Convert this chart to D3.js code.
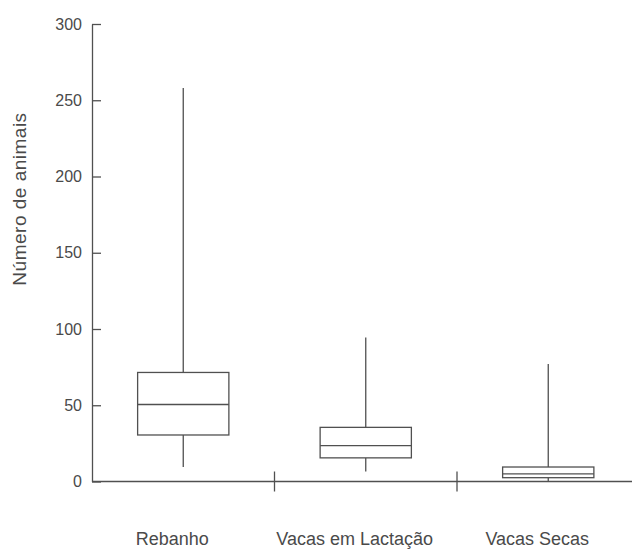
<!DOCTYPE html>
<html>
<head>
<meta charset="utf-8">
<script src="https://cdn.jsdelivr.net/npm/d3@7"></script>
<style>
  body { margin: 0; background: #fff; }
  text { font-family: "Liberation Sans", Arial, sans-serif; fill: #4a4a4a; }
</style>
</head>
<body>
<div id="chart"></div>
<script>
// box plot data
var categories = ['Rebanho', 'Vacas em Lactação', 'Vacas Secas'];
var whiskerLow  = [9.5, 6.5, 0];
var q1          = [30.5, 15.5, 2.5];
var median      = [50.5, 23.5, 5];
var q3          = [71.5, 35.5, 9.5];
var whiskerHigh = [258, 94.5, 77];
var yTicks = [0, 50, 100, 150, 200, 250, 300];

var W = 632, H = 549;
var margin = {top: 24, left: 92},
    plotRight = 639.5,
    plotBottom = 481.5;

var svg = d3.select('#chart').append('svg')
    .attr('width', W)
    .attr('height', H);

var x = d3.scaleBand().domain(categories).range([margin.left, plotRight]).padding(0);
var y = d3.scaleLinear().domain([0, 300]).range([plotBottom, margin.top]);

var stroke = '#505050';

// y axis, ticks pointing inward
var yAxis = svg.append('g')
    .attr('transform', 'translate(' + margin.left + ',0)')
    .call(d3.axisLeft(y).tickValues(yTicks).tickSizeInner(-9).tickSizeOuter(0).tickPadding(10));
yAxis.select('.domain').attr('stroke', stroke).attr('stroke-width', 1.3);
yAxis.selectAll('.tick line').attr('stroke', stroke).attr('stroke-width', 1.3);
yAxis.selectAll('.tick text')
    .style('font-family', '"Liberation Sans", Arial, sans-serif')
    .style('font-size', '16px')
    .attr('fill', '#4a4a4a');

// x axis line and boundary ticks between categories
svg.append('line')
    .attr('x1', margin.left).attr('x2', plotRight)
    .attr('y1', y(0)).attr('y2', y(0))
    .attr('stroke', stroke).attr('stroke-width', 1.3);

svg.selectAll('.xtick')
    .data(categories.slice(1))
    .enter().append('line')
    .attr('class', 'xtick')
    .attr('x1', function(d) { return x(d); })
    .attr('x2', function(d) { return x(d); })
    .attr('y1', y(0) - 10).attr('y2', y(0) + 10)
    .attr('stroke', stroke).attr('stroke-width', 1.3);

// category labels sit a little left of the band centre in the original
svg.selectAll('.xlabel')
    .data(categories)
    .enter().append('text')
    .attr('class', 'xlabel')
    .attr('x', function(d) { return x(d) + x.bandwidth() / 2; })
    .attr('dx', -11)
    .attr('y', 545)
    .attr('text-anchor', 'middle')
    .style('font-size', '18px')
    .text(function(d) { return d; });

// y title
svg.append('text')
    .attr('transform', 'translate(26,199) rotate(-90)')
    .attr('text-anchor', 'middle')
    .style('font-size', '19px')
    .style('letter-spacing', '0.5px')
    .text('Número de animais');

// boxes
var boxW = x.bandwidth() * 0.5;
var box = svg.selectAll('.box')
    .data(categories)
    .enter().append('g')
    .attr('class', 'box')
    .attr('transform', function(d) { return 'translate(' + (x(d) + x.bandwidth() / 2) + ',0)'; });

// whiskers
box.append('line')
    .attr('x1', 0).attr('x2', 0)
    .attr('y1', function(d, i) { return y(whiskerHigh[i]); })
    .attr('y2', function(d, i) { return y(q3[i]); })
    .attr('stroke', stroke).attr('stroke-width', 1.3);
box.append('line')
    .attr('x1', 0).attr('x2', 0)
    .attr('y1', function(d, i) { return y(q1[i]); })
    .attr('y2', function(d, i) { return y(whiskerLow[i]); })
    .attr('stroke', stroke).attr('stroke-width', 1.3);

box.append('rect')
    .attr('x', -boxW / 2)
    .attr('width', boxW)
    .attr('y', function(d, i) { return y(q3[i]); })
    .attr('height', function(d, i) { return y(q1[i]) - y(q3[i]); })
    .attr('fill', 'white')
    .attr('stroke', stroke).attr('stroke-width', 1.3);

box.append('line')
    .attr('x1', -boxW / 2).attr('x2', boxW / 2)
    .attr('y1', function(d, i) { return y(median[i]); })
    .attr('y2', function(d, i) { return y(median[i]); })
    .attr('stroke', stroke).attr('stroke-width', 1.3);
</script>
</body>
</html>
